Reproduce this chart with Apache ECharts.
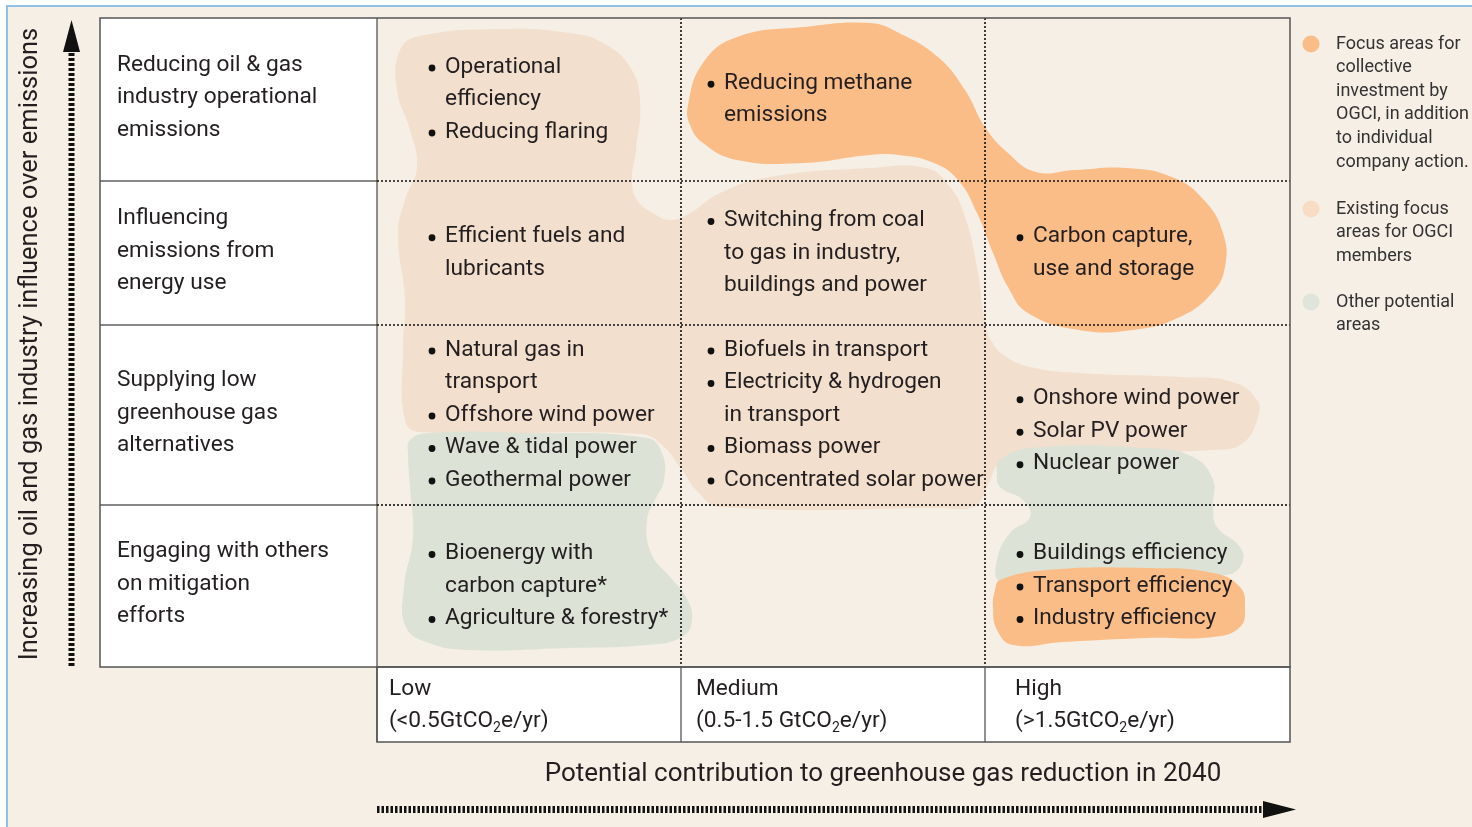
<!DOCTYPE html>
<html>
<head>
<meta charset="utf-8">
<title>OGCI focus areas</title>
<script src="https://cdn.jsdelivr.net/npm/echarts@6/dist/echarts.min.js"></script>
<style>
  html, body { margin: 0; padding: 0; background: #fff; }
  #main { width: 1472px; height: 827px; }
</style>
</head>
<body>
<div id="main"></div>
<script>
  // ---- chart content ----
  const rowLabels = [
    ['Reducing oil & gas', 'industry operational', 'emissions'],
    ['Influencing', 'emissions from', 'energy use'],
    ['Supplying low', 'greenhouse gas', 'alternatives'],
    ['Engaging with others', 'on mitigation', 'efforts']
  ];
  const colLabels = ['Low', 'Medium', 'High'];
  const colRanges = ['<0.5Gt', '0.5-1.5 Gt', '>1.5Gt'];

  // one list of lines per row; '• ' starts a bullet
  const lowItems = [
    ['• Operational', 'efficiency', '• Reducing flaring'],
    ['• Efficient fuels and', 'lubricants'],
    ['• Natural gas in', 'transport', '• Offshore wind power', '• Wave & tidal power', '• Geothermal power'],
    ['• Bioenergy with', 'carbon capture*', '• Agriculture & forestry*']
  ];
  const mediumItems = [
    ['• Reducing methane', 'emissions'],
    ['• Switching from coal', 'to gas in industry,', 'buildings and power'],
    ['• Biofuels in transport', '• Electricity & hydrogen', 'in transport', '• Biomass power', '• Concentrated solar power'],
    []
  ];
  const highItems = [
    [],
    ['• Carbon capture,', 'use and storage'],
    ['', '• Onshore wind power', '• Solar PV power', '• Nuclear power'],
    ['• Buildings efficiency', '• Transport efficiency', '• Industry efficiency']
  ];

  const legendNames = [
    'Focus areas for\ncollective\ninvestment by\nOGCI, in addition\nto individual\ncompany action.',
    'Existing focus\nareas for OGCI\nmembers',
    'Other potential\nareas'
  ];
  const xTitle = 'Potential contribution to greenhouse gas reduction in 2040';
  const yTitle = 'Increasing oil and gas industry influence over emissions';

  // ---- layout (matrix units, origin = top-left of matrix) ----
  const COL_EDGES = [0, 304, 608, 913];
  const ROW_EDGES = [0, 163, 307, 487, 649];
  const HEAD_W = 277, FOOT_H = 75, LINE_H = 32.5;
  const BULLET_X = [55, 30, 35], TEXT_X = [68, 43, 48], LABEL_X = [12, 15, 30];

  const C_FOCUS = '#fbbd88', C_EXIST = '#f3dfcd', C_OTHER = '#dce2d6';
  const C_BG = '#f6efe5', C_TEXT = '#231f20';
  const FONT = 'Roboto, "Open Sans", sans-serif';
  const BODY = '22.7px ' + FONT;

  // blob outlines (hand traced shapes of the highlighted regions)
  const existingBlobs = [[
    [23,32],[43,18],[126,11],[193,15],[226,25],[253,49],[263,82],[259,132],[255,162],[260,182],
    [276,195],[293,202],[313,195],[343,175],[393,159],[493,150],[549,150],[573,169],[588,199],
    [600,249],[608,304],[615,324],[628,338],[653,349],[703,355],[803,359],[856,364],[880,382],
    [881,399],[866,425],[836,432],[723,434],[653,437],[623,445],[611,467],[598,488],[563,490],
    [343,489],[321,474],[305,452],[285,427],[263,416],[43,414],[28,402],[26,332],[28,282],
    [21,215],[28,182],[40,149],[33,112],[20,72]
  ]];
  const otherBlobs = [[
    [33,422],[52,415],[151,415],[270,420],[285,435],[287,462],[278,482],[270,502],[274,535],
    [293,559],[309,579],[315,602],[305,619],[270,627],[191,630],[92,632],[52,625],[29,609],
    [27,569],[36,519],[33,469],[31,435]
  ], [
    [623,442],[653,430],[770,430],[816,439],[836,462],[836,489],[840,509],[863,529],[865,545],
    [850,557],[773,562],[663,567],[623,564],[620,542],[633,515],[653,499],[646,482],[623,469],[620,455]
  ]];
  const focusBlobs = [[
    [311,87],[326,45],[360,19],[426,9],[493,5],[522,15],[561,39],[588,72],[608,109],[631,135],
    [659,154],[698,152],[749,150],[795,159],[827,182],[846,215],[848,249],[835,275],[803,299],
    [756,312],[702,312],[651,295],[631,269],[616,235],[600,195],[581,162],[557,145],[522,137],
    [493,137],[426,145],[360,142],[326,125],[313,107]
  ], [
    [623,562],[670,552],[770,550],[836,555],[863,569],[868,589],[863,609],[836,619],[770,620],
    [686,624],[636,627],[620,612],[616,589],[618,572]
  ]];

  // ---- build text items ----
  const texts = [];
  function block(lines, yMid, push) {
    lines.forEach((ln, i) => push(ln, yMid + (i - (lines.length - 1) / 2) * LINE_H));
  }
  rowLabels.forEach((lines, r) => {
    const mid = (ROW_EDGES[r] + ROW_EDGES[r + 1]) / 2 - 2;
    block(lines, mid, (ln, y) => texts.push({ x: -HEAD_W + 17, y, text: ln }));
  });
  [lowItems, mediumItems, highItems].forEach((rows, c) => {
    rows.forEach((lines, r) => {
      const mid = (ROW_EDGES[r] + ROW_EDGES[r + 1]) / 2;
      block(lines, mid, (ln, y) => {
        if (!ln) return;
        if (ln.startsWith('• ')) {
          texts.push({ x: COL_EDGES[c] + BULLET_X[c], y: y + 1, dot: true });
          ln = ln.slice(2);
        }
        texts.push({ x: COL_EDGES[c] + TEXT_X[c], y, text: ln });
      });
    });
  });
  colLabels.forEach((lab, c) => {
    const mid = ROW_EDGES[4] + FOOT_H / 2 + 1;
    texts.push({ x: COL_EDGES[c] + LABEL_X[c], y: mid - LINE_H / 2, text: lab });
    texts.push({ x: COL_EDGES[c] + LABEL_X[c], y: mid + LINE_H / 2,
      text: '{t|(' + colRanges[c] + 'CO}{s|2}{t|e/yr)}', rich: true });
  });

  // ---- table frame lines ----
  const frameLines = [];
  ROW_EDGES.slice(1, 4).forEach(y => {
    frameLines.push({ a: [-HEAD_W, y], b: [0, y], dash: null, w: 1, c: '#111' });
    frameLines.push({ a: [0, y], b: [COL_EDGES[3], y], dash: [2, 2], w: 1.6, c: '#111' });
  });
  COL_EDGES.slice(1, 3).forEach(x => {
    frameLines.push({ a: [x, 0], b: [x, ROW_EDGES[4]], dash: [2, 2], w: 1.6, c: '#111' });
    frameLines.push({ a: [x, ROW_EDGES[4]], b: [x, ROW_EDGES[4] + FOOT_H], dash: null, w: 1, c: '#222' });
  });
  frameLines.push({ a: [0, 0], b: [0, ROW_EDGES[4] + FOOT_H], dash: null, w: 1, c: '#222' });

  const whiteCells = [
    [-HEAD_W, 0, 0, ROW_EDGES[4]],
    [0, ROW_EDGES[4], COL_EDGES[3], ROW_EDGES[4] + FOOT_H]
  ];
  const borderRects = [
    [-HEAD_W, 0, COL_EDGES[3], ROW_EDGES[4]],
    [0, ROW_EDGES[4], COL_EDGES[3], ROW_EDGES[4] + FOOT_H]
  ];

  function rectFrom(api, r) {
    const p0 = api.coord([r[0], r[1]]), p1 = api.coord([r[2], r[3]]);
    return { x: p0[0], y: p0[1], width: p1[0] - p0[0], height: p1[1] - p0[1] };
  }

  function blobSeries(name, color, shapes, z) {
    return {
      type: 'custom', name, z, silent: true,
      data: shapes.map((s, i) => [s[0][0], s[0][1], i]),
      renderItem: (params, api) => ({
        type: 'polygon',
        shape: { points: shapes[params.dataIndex].map(p => api.coord(p)), smooth: 0.45 },
        style: { fill: color }
      })
    };
  }

  const chart = echarts.init(document.getElementById('main'));
  window.addEventListener('resize', chart.resize);

  const legendTops = [44, 209, 302];
  const legendColors = [C_FOCUS, '#f8dcc4', '#dfe5da'];
  const legendGraphics = [];
  legendNames.forEach((n, i) => {
    legendGraphics.push({ type: 'circle', shape: { cx: 1311, cy: legendTops[i], r: 8.5 }, style: { fill: legendColors[i] } });
    legendGraphics.push({ type: 'text', x: 1336, y: legendTops[i] - 11.8,
      style: { text: n, font: '18px ' + FONT, fill: '#333', lineHeight: 23.6, align: 'left', verticalAlign: 'top' } });
  });

  chart.setOption({
    backgroundColor: '#fff',
    animation: false,
    grid: { left: 100, top: 18, width: 1190, height: 724 },
    xAxis: { type: 'value', min: -HEAD_W, max: COL_EDGES[3], show: false },
    yAxis: { type: 'value', min: 0, max: ROW_EDGES[4] + FOOT_H, inverse: true, show: false },
    graphic: [
      { type: 'rect', z: -10, shape: { x: 7, y: 6, width: 1500, height: 900 },
        style: { fill: C_BG, stroke: '#8fc0e6', lineWidth: 2 } },
      // y arrow
      { type: 'line', shape: { x1: 71.5, y1: 666, x2: 71.5, y2: 52 },
        style: { stroke: '#111', lineWidth: 6, lineDash: [3, 2] } },
      { type: 'polygon', shape: { points: [[63, 52], [80, 52], [71.5, 20]] }, style: { fill: '#111' } },
      // x arrow
      { type: 'line', shape: { x1: 377, y1: 809.5, x2: 1264, y2: 809.5 },
        style: { stroke: '#111', lineWidth: 7, lineDash: [2.5, 2] } },
      { type: 'polygon', shape: { points: [[1263, 801], [1263, 818], [1296, 809.5]] }, style: { fill: '#111' } },
      { type: 'text', x: 883, y: 774,
        style: { text: xTitle, font: '26px ' + FONT, fill: C_TEXT, align: 'center', verticalAlign: 'middle' } },
      { type: 'text', x: 31, y: 344, rotation: Math.PI / 2,
        style: { text: yTitle, font: '25.5px ' + FONT, fill: C_TEXT, align: 'center', verticalAlign: 'middle' } }
    ].concat(legendGraphics),
    series: [
      {
        type: 'custom', name: 'cells', z: 1, silent: true,
        data: whiteCells.map(r => [r[0], r[1]]),
        renderItem: (params, api) => ({
          type: 'rect', shape: rectFrom(api, whiteCells[params.dataIndex]), style: { fill: '#fff' }
        })
      },
      blobSeries('Existing focus areas for OGCI members', C_EXIST, existingBlobs, 2),
      blobSeries('Other potential areas', C_OTHER, otherBlobs, 3),
      blobSeries('Focus areas for collective investment by OGCI', C_FOCUS, focusBlobs, 4),
      {
        type: 'custom', name: 'lines', z: 5, silent: true,
        data: frameLines.map(l => [l.a[0], l.a[1]]),
        renderItem: (params, api) => {
          const l = frameLines[params.dataIndex];
          const p = api.coord(l.a), q = api.coord(l.b);
          return { type: 'line', shape: { x1: p[0], y1: p[1], x2: q[0], y2: q[1] },
            style: { stroke: l.c, lineWidth: l.w, lineDash: l.dash } };
        }
      },
      {
        type: 'custom', name: 'borders', z: 6, silent: true,
        data: borderRects.map(r => [r[0], r[1]]),
        renderItem: (params, api) => ({
          type: 'rect', shape: rectFrom(api, borderRects[params.dataIndex]),
          style: { fill: null, stroke: '#555', lineWidth: 1.5 }
        })
      },
      {
        type: 'custom', name: 'texts', z: 7, silent: true,
        data: texts.map(t => [t.x, t.y]),
        renderItem: (params, api) => {
          const t = texts[params.dataIndex];
          const p = api.coord([t.x, t.y]);
          if (t.dot) {
            return { type: 'circle', shape: { cx: p[0], cy: p[1], r: 3.4 }, style: { fill: '#111' } };
          }
          const style = { text: t.text, font: BODY, fill: C_TEXT, align: 'left', verticalAlign: 'middle' };
          if (t.rich) {
            style.rich = {
              t: { fontSize: 22.7, fontFamily: FONT, fill: C_TEXT, lineHeight: 28 },
              s: { fontSize: 14, fontFamily: FONT, fill: C_TEXT, lineHeight: 28, padding: [14, 0, 0, 0] }
            };
          }
          return { type: 'text', x: p[0], y: p[1], style };
        }
      }
    ]
  });
</script>
</body>
</html>
